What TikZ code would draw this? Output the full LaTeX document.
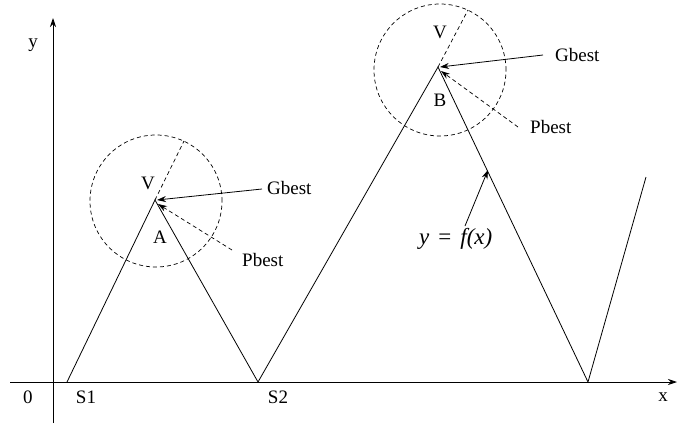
\documentclass[tikz,border=0pt]{standalone}
\usepackage{fontspec}
\setmainfont{Liberation Serif}
\usetikzlibrary{arrows.meta}
\begin{document}
\begin{tikzpicture}[x=1pt,y=-1pt,
  line/.style={line width=0.8pt},
  dsh/.style={line width=0.7pt,dash pattern=on 4pt off 3pt},
  arr/.style={-{Stealth[length=9pt,width=6pt]}},
  lbl/.style={font=\fontsize{19}{22}\selectfont, inner sep=0pt}]
\useasboundingbox (0,0) rectangle (681,426);
% axes
\coordinate (ytop) at (53,18);
\coordinate (ybot) at (53,423);
\coordinate (xl) at (10,382);
\coordinate (xr) at (677,382);
\draw[line,arr] (ybot) -- (ytop);
\draw[line,arr] (xl) -- (xr);
% curve
\coordinate (s1) at (67,382);
\coordinate (pa) at (155,200);
\coordinate (s2) at (258,382);
\coordinate (pb) at (438,67);
\coordinate (s3) at (588,382);
\coordinate (fend) at (646,177);
\draw[line] (s1) -- (pa) -- (s2) -- (pb) -- (s3) -- (fend);
% circles
\node[draw,dsh,circle,minimum size=132pt,inner sep=0pt] (ca) at (156,201) {};
\node[draw,dsh,circle,minimum size=132pt,inner sep=0pt] (cb) at (440,70) {};
% dashed extensions
\coordinate (ea) at (184,141);
\coordinate (eb) at (468,10);
\draw[dsh] (pa) -- (ea);
\draw[dsh] (pb) -- (eb);
% labels
\node[lbl] (va) at (148,183) {V};
\node[lbl] (la) at (160,237) {A};
\node[lbl] (vb) at (440,32) {V};
\node[lbl] (lb) at (440,100) {B};
\node[lbl] (ylab) at (33,45) {y};
\node[lbl] (zero) at (28,397) {0};
\node[lbl] (ls1) at (86,397) {S1};
\node[lbl] (ls2) at (278,397) {S2};
\node[lbl] (xlab) at (663,397) {x};
% Gbest / Pbest A
\node[lbl,anchor=west] (ga) at (267,188) {Gbest};
\node[lbl,anchor=west] (pba) at (242,260) {Pbest};
\coordinate (gaS) at (262,189);
\coordinate (gaE) at (157,200);
\coordinate (paS) at (232,250);
\coordinate (paE) at (158,204);
\draw[line,arr] (gaS) -- (gaE);
\draw[dsh,arr] (paS) -- (paE);
% Gbest / Pbest B
\node[lbl,anchor=west] (gb) at (555,55) {Gbest};
\node[lbl,anchor=west] (pbb) at (530,127) {Pbest};
\coordinate (gbS) at (543,55);
\coordinate (gbE) at (440,67);
\coordinate (pbS) at (518,127);
\coordinate (pbE) at (441,71);
\draw[line,arr] (gbS) -- (gbE);
\draw[dsh,arr] (pbS) -- (pbE);
% y = f(x)
\node[lbl,anchor=west,font=\fontsize{23}{26}\selectfont] (fx) at (419,239) {\textit{y}\hspace{9pt}=\hspace{9pt}\textit{f(x)}};
\coordinate (fxS) at (465,226);
\coordinate (fxE) at (488,170);
\draw[line,arr] (fxS) -- (fxE);
\end{tikzpicture}
\end{document}
